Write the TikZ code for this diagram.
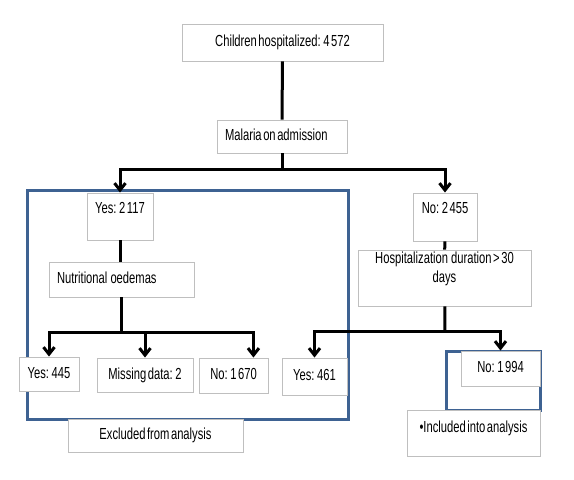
\documentclass[tikz,border=0pt]{standalone}
\usepackage{fontspec}
\setmainfont{Liberation Sans}[FakeStretch=0.70,WordSpace=0.5]
\usetikzlibrary{arrows.meta}
\definecolor{boxgray}{RGB}{191,191,191}
\definecolor{frameblue}{RGB}{62,98,146}

\begin{document}
\begin{tikzpicture}[x=1pt,y=-1pt]
   \tikzset{Box/.style={draw=boxgray, line width=0.9pt, fill=white, inner sep=0pt,
      font=\fontsize{16}{19}\selectfont, text height=11.5pt, text depth=3.5pt}}
   \tikzset{Frame/.style={draw=frameblue, line width=3pt}}
   \tikzset{Link/.style={line width=3pt}}
   \tikzset{Arrow/.style={line width=3pt, -{Straight Barb[length=7pt,width=11pt]}}}
   \useasboundingbox (0,0) rectangle (574,480);
   \draw[Frame] (27,190) rectangle (348,419);
   \draw[Frame] (446,351) rectangle (540,410);
   \node[Box, minimum width=201pt, minimum height=37pt] (all) at (282.5,42.5) {Children hospitalized: 4 572};
   \node[Box, minimum width=130pt, minimum height=33pt] (malaria) at (282,136.5) {\makebox[114pt][l]{Malaria on admission}};
   \node[Box, minimum width=66pt, minimum height=47pt, text depth=18.5pt] (yes) at (120,216.5) {Yes: 2 117};
   \node[Box, minimum width=145pt, minimum height=35pt] (oedema) at (121.5,279.5) {\makebox[129pt][l]{Nutritional~ oedemas}};
   \node[Box, minimum width=60pt, minimum height=34pt] (oedyes) at (49,374) {Yes: 445};
   \node[Box, minimum width=96pt, minimum height=34pt] (oedmiss) at (145,375) {Missing data: 2};
   \node[Box, minimum width=69pt, minimum height=35pt] (oedno) at (233.5,375.5) {No: 1 670};
   \node[Box, minimum width=175pt, minimum height=33pt] (excluded) at (155.5,435.5) {Excluded from analysis};
   \node[Box, minimum width=64pt, minimum height=48pt, text depth=18.5pt] (no) at (445,217) {No: 2 455};
   \node[Box, minimum width=173pt, minimum height=56pt, align=center] (duration) at (444.5,278) {Hospitalization~ duration \textgreater{} 30\\days};
   \node[Box, minimum width=65pt, minimum height=37pt] (duryes) at (314.5,376.5) {Yes: 461};
   \node[Box, minimum width=79pt, minimum height=35pt] (durno) at (500.5,368.5) {No: 1 994};
   \node[Box, minimum width=133pt, minimum height=46pt, text depth=13.5pt] (included) at (473.5,433) {\textbullet Included into analysis};
   \coordinate (fork1) at (282,169);
   \coordinate (fork2) at (121,332);
   \coordinate (fork3) at (445,331);
   \draw[Link] (all) -- (malaria);
   \draw[Link] (malaria) -- (fork1);
   \draw[Arrow] (fork1) -| (yes.north);
   \draw[Arrow] (fork1) -| (no.north);
   \draw[Link] (yes.south) -- (yes.south |- oedema.north);
   \draw[Link] (oedema.south -| fork2) -- (fork2);
   \draw[Arrow] (fork2) -| (oedyes.north);
   \draw[Arrow] (fork2) -| (oedmiss.north);
   \draw[Arrow] (fork2) -| ([xshift=-15pt]oedno.north east);
   \draw[Link] (no) -- (duration);
   \draw[Link] (duration) -- (fork3);
   \draw[Arrow] (fork3) -| (duryes.north);
   \draw[Arrow] (fork3) -| (durno.north);
\end{tikzpicture}
\end{document}
